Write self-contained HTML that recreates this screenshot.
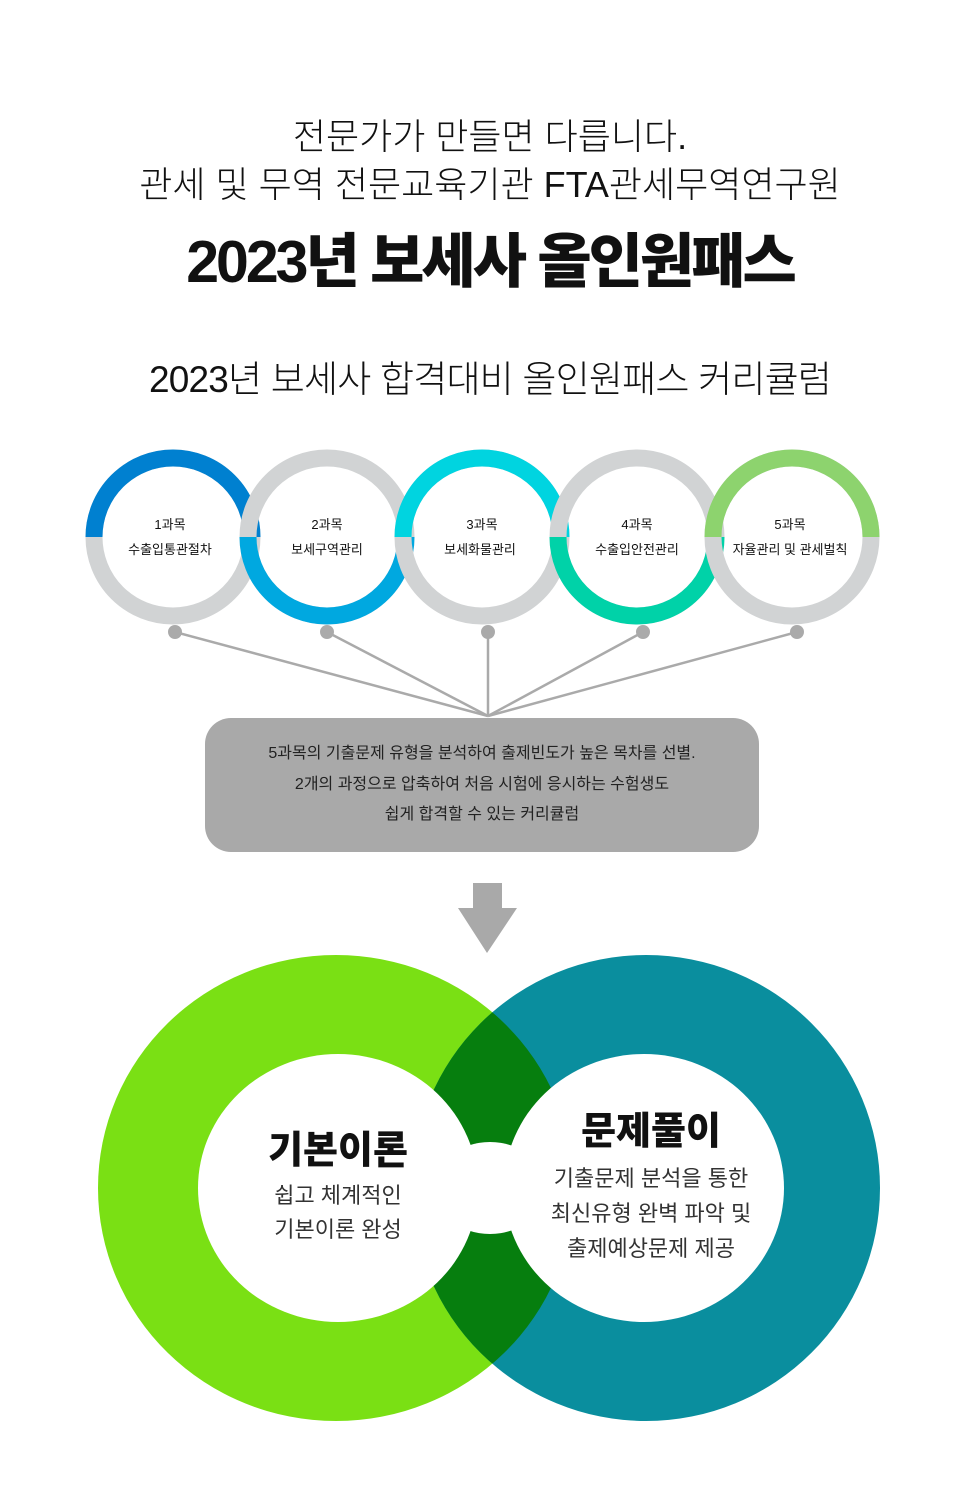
<!DOCTYPE html>
<html><head><meta charset="utf-8"><style>
body{margin:0;background:#fff;width:980px;height:1512px;overflow:hidden;position:relative;font-family:"Liberation Sans","Noto Sans CJK KR",sans-serif;color:#111}
.t{position:absolute;left:0;width:980px;text-align:center;white-space:nowrap}
</style></head><body>
<div class="t" style="top:108px;font-size:36px;font-weight:300;letter-spacing:0px">전문가가 만들면 다릅니다.</div>
<div class="t" style="top:156px;font-size:36px;font-weight:300;letter-spacing:0px">관세 및 무역 전문교육기관 FTA관세무역연구원</div>
<div class="t" style="top:214px;font-size:59px;font-weight:900;letter-spacing:-3px">2023년 보세사 올인원패스</div>
<div class="t" style="top:349px;font-size:37px;font-weight:300;letter-spacing:-0.8px">2023년 보세사 합격대비 올인원패스 커리큘럼</div>
<svg width="980" height="1512" style="position:absolute;left:0;top:0" viewBox="0 0 980 1512">
<defs>
<clipPath id="top"><rect x="0" y="0" width="980" height="537"/></clipPath>
<clipPath id="bot"><rect x="0" y="537" width="980" height="200"/></clipPath>
<clipPath id="gr"><ellipse cx="336" cy="1188" rx="238" ry="233"/></clipPath>
</defs>
<g fill="none" stroke-width="17">
<circle cx="173" cy="537" r="79" stroke="#d1d3d4"/><circle cx="173" cy="537" r="79" stroke="#0080d0" clip-path="url(#top)"/>
<circle cx="327" cy="537" r="79" stroke="#d1d3d4"/><circle cx="327" cy="537" r="79" stroke="#00a8e0" clip-path="url(#bot)"/>
<circle cx="482" cy="537" r="79" stroke="#d1d3d4"/><circle cx="482" cy="537" r="79" stroke="#00d4e0" clip-path="url(#top)"/>
<circle cx="637" cy="537" r="79" stroke="#d1d3d4"/><circle cx="637" cy="537" r="79" stroke="#00d2a8" clip-path="url(#bot)"/>
<circle cx="792" cy="537" r="79" stroke="#d1d3d4"/><circle cx="792" cy="537" r="79" stroke="#8dd36e" clip-path="url(#top)"/>
</g>
<g font-size="13" text-anchor="middle" fill="#111">
<text x="170" y="529">1과목</text><text x="170" y="554">수출입통관절차</text>
<text x="327" y="529">2과목</text><text x="327" y="554">보세구역관리</text>
<text x="482" y="529">3과목</text><text x="480" y="554">보세화물관리</text>
<text x="637" y="529">4과목</text><text x="637" y="554">수출입안전관리</text>
<text x="790" y="529">5과목</text><text x="790" y="554">자율관리 및 관세벌칙</text>
</g>
<g stroke="#aaa" stroke-width="2.5">
<line x1="175" y1="632" x2="488" y2="716"/><line x1="327" y1="632" x2="488" y2="716"/><line x1="488" y1="632" x2="488" y2="716"/><line x1="643" y1="632" x2="488" y2="716"/><line x1="797" y1="632" x2="488" y2="716"/>
</g>
<g fill="#aaa"><circle cx="175" cy="632" r="7"/><circle cx="327" cy="632" r="7"/><circle cx="488" cy="632" r="7"/><circle cx="643" cy="632" r="7"/><circle cx="797" cy="632" r="7"/></g>
<rect x="205" y="718" width="554" height="134" rx="26" fill="#a9a9a9"/>
<g font-size="16" text-anchor="middle" fill="#222">
<text x="482" y="758">5과목의 기출문제 유형을 분석하여 출제빈도가 높은 목차를 선별.</text>
<text x="482" y="789">2개의 과정으로 압축하여 처음 시험에 응시하는 수험생도</text>
<text x="482" y="819">쉽게 합격할 수 있는 커리큘럼</text>
</g>
<path d="M473,883H502V908H517L487,953L458,908H473Z" fill="#a9a9a9"/>
<ellipse cx="336" cy="1188" rx="238" ry="233" fill="#7ae014"/>
<ellipse cx="646" cy="1188" rx="234" ry="233" fill="#0a8e9e"/>
<ellipse cx="646" cy="1188" rx="234" ry="233" fill="#067e0e" clip-path="url(#gr)"/>
<g fill="#fff">
<ellipse cx="338" cy="1188" rx="140" ry="134"/>
<ellipse cx="644" cy="1188" rx="140" ry="134"/>
<ellipse cx="490" cy="1188" rx="56" ry="46"/>
</g>
<g text-anchor="middle">
<text x="338" y="1163" font-size="38" font-weight="900" fill="#111">기본이론</text>
<text x="338" y="1203" font-size="22" fill="#333">쉽고 체계적인</text>
<text x="338" y="1237" font-size="22" fill="#333">기본이론 완성</text>
<text x="651" y="1144" font-size="38" font-weight="900" fill="#111">문제풀이</text>
<text x="651" y="1186" font-size="22" fill="#333">기출문제 분석을 통한</text>
<text x="651" y="1221" font-size="22" fill="#333">최신유형 완벽 파악 및</text>
<text x="651" y="1256" font-size="22" fill="#333">출제예상문제 제공</text>
</g>
</svg>
</body></html>
